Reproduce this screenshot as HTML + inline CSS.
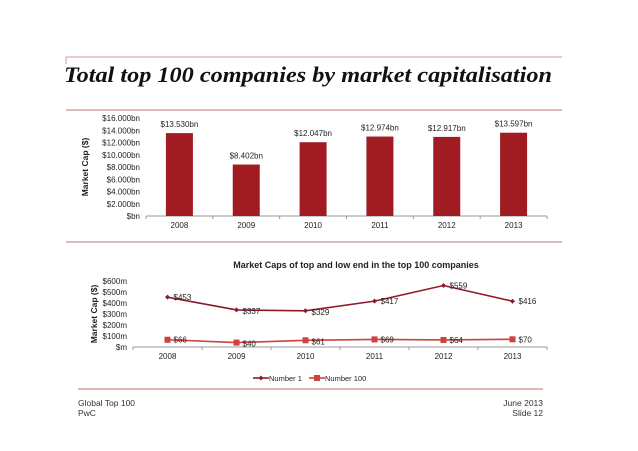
<!DOCTYPE html>
<html><head><meta charset="utf-8"><style>
body{margin:0;background:#fff;width:638px;height:451px;overflow:hidden;font-family:"Liberation Sans",sans-serif}
svg{display:block}
</style></head><body>
<svg width="638" height="451" font-family="Liberation Sans, sans-serif">
<line x1="66" y1="57" x2="562" y2="57" stroke="#c99" stroke-width="1"/>
<line x1="66" y1="57" x2="66" y2="64" stroke="#c99"/>
<text x="64" y="82" font-family="Liberation Serif, serif" font-style="italic" font-weight="bold" font-size="22" fill="#111" textLength="488" lengthAdjust="spacingAndGlyphs">Total top 100 companies by market capitalisation</text>
<line x1="66" y1="110" x2="562" y2="110" stroke="#d9a3a3" stroke-width="1.5"/>
<line x1="66" y1="242" x2="562" y2="242" stroke="#d9a3a3" stroke-width="1.5"/>
<g id="bar"></g>
<g id="line"></g>
<line x1="78" y1="389" x2="543" y2="389" stroke="#e3b5b5" stroke-width="2"/>
<text x="78" y="406" font-size="8.5" fill="#333">Global Top 100</text>
<text x="78" y="416" font-size="8.5" fill="#333">PwC</text>
<text x="543" y="406" font-size="8.5" fill="#333" text-anchor="end">June 2013</text>
<text x="543" y="416" font-size="8.5" fill="#333" text-anchor="end">Slide 12</text>
</svg>
<script>
const years=["2008","2009","2010","2011","2012","2013"];
const totals=[13.530,8.402,12.047,12.974,12.917,13.597];
const totalLabels=["$13.530bn","$8.402bn","$12.047bn","$12.974bn","$12.917bn","$13.597bn"];
const barTicks=[0,2,4,6,8,10,12,14,16];
const barTickLabels=["$bn","$2.000bn","$4.000bn","$6.000bn","$8.000bn","$10.000bn","$12.000bn","$14.000bn","$16.000bn"];
const number1=[453,337,329,417,559,416];
const number100=[66,40,61,69,64,70];
const lineTicks=[0,100,200,300,400,500,600];
const lineTickLabels=["$m","$100m","$200m","$300m","$400m","$500m","$600m"];
const NS="http://www.w3.org/2000/svg";
function mk(p,t,a,txt){const e=document.createElementNS(NS,t);for(const k in a)e.setAttribute(k,a[k]);if(txt!==undefined)e.textContent=txt;p.appendChild(e);return e;}
// bar chart
const bg=document.getElementById('bar');
const bx0=146,bx1=547,by0=216,by1=118,bw=(bx1-bx0)/years.length;
const bY=v=>by0-(v/16)*(by0-by1);
const bX=i=>bx0+bw*(i+0.5);
barTicks.forEach((t,i)=>{const e=mk(bg,'text',{x:bx0-6,y:bY(t)+3,'font-size':8,'text-anchor':'end',fill:'#222'},barTickLabels[i]);

});
let ax=mk(bg,'line',{x1:bx0,y1:by0,x2:bx1,y2:by0,stroke:'#999'});


years.forEach((y,i)=>{
 mk(bg,'line',{x1:bx0+bw*i,y1:by0,x2:bx0+bw*i,y2:by0+3,stroke:'#999'});
 const r=mk(bg,'rect',{x:bX(i)-13.5,y:bY(totals[i]),width:27,height:by0-bY(totals[i]),fill:'#a01c22'});
 
 
 const l=mk(bg,'text',{x:bX(i),y:bY(totals[i])-6,'font-size':8,'text-anchor':'middle',fill:'#222'},totalLabels[i]);
 
 
 const t=mk(bg,'text',{x:bX(i),y:by0+12,'font-size':8,'text-anchor':'middle',fill:'#222'},y);
 
 
});
mk(bg,'line',{x1:bx1,y1:by0,x2:bx1,y2:by0+3,stroke:'#999'});
const yt=mk(bg,'text',{transform:'translate(88,167) rotate(-90)','font-size':8.5,'font-weight':'bold','text-anchor':'middle',fill:'#222'},'Market Cap ($)');


// line chart
const lg=document.getElementById('line');
const lx0=133,lx1=547,ly0=347,ly1=281,lw=(lx1-lx0)/years.length;
const lY=v=>ly0-(v/600)*(ly0-ly1);
const lX=i=>lx0+lw*(i+0.5);
const tt=mk(lg,'text',{x:356,y:268,'font-size':9,'font-weight':'bold','text-anchor':'middle',fill:'#222'},'Market Caps of top and low end in the top 100 companies');


lineTicks.forEach((t,i)=>{const e=mk(lg,'text',{x:lx0-6,y:lY(t)+3,'font-size':8,'text-anchor':'end',fill:'#222'},lineTickLabels[i]);

});
const lyt=mk(lg,'text',{transform:'translate(97,314) rotate(-90)','font-size':8.5,'font-weight':'bold','text-anchor':'middle',fill:'#222'},'Market Cap ($)');


const lax=mk(lg,'line',{x1:lx0,y1:ly0,x2:lx1,y2:ly0,stroke:'#999'});


for(let i=0;i<=years.length;i++)mk(lg,'line',{x1:lx0+lw*i,y1:ly0,x2:lx0+lw*i,y2:ly0+3,stroke:'#999'});
years.forEach((y,i)=>{const t=mk(lg,'text',{x:lX(i),y:ly0+12,'font-size':8,'text-anchor':'middle',fill:'#222'},y);

});
function series(vals,color,marker,name){
 const p=mk(lg,'polyline',{points:vals.map((v,i)=>lX(i)+','+lY(v)).join(' '),fill:'none',stroke:color,'stroke-width':1.6});
 
 
 vals.forEach((v,i)=>{
  const x=lX(i),y=lY(v);
  let m;
  if(marker==='d')m=mk(lg,'polygon',{points:`${x},${y-2.5} ${x+2.5},${y} ${x},${y+2.5} ${x-2.5},${y}`,fill:color});
  else m=mk(lg,'rect',{x:x-3,y:y-3,width:6,height:6,fill:color});
  
  
  const l=mk(lg,'text',{x:x+6,y:y+(i==1||i==2?4:3),'font-size':8,fill:'#222'},'$'+v);
  
  
 });
}
series(number1,'#8e1b2c','d','number-1');
series(number100,'#d0403c','s','number-100');
// legend
const le=mk(lg,'g',{});


mk(le,'line',{x1:253,y1:378,x2:269,y2:378,stroke:'#8e1b2c','stroke-width':1.6});
mk(le,'polygon',{points:'261,375.5 263.5,378 261,380.5 258.5,378',fill:'#8e1b2c'});
const e1=mk(le,'text',{x:269,y:381,'font-size':7.5,fill:'#222'},'Number 1');


mk(le,'line',{x1:309,y1:378,x2:325,y2:378,stroke:'#d0403c','stroke-width':1.6});
mk(le,'rect',{x:314,y:375,width:6,height:6,fill:'#d0403c'});
const e2=mk(le,'text',{x:325,y:381,'font-size':7.5,fill:'#222'},'Number 100');


</script>
</body></html>
